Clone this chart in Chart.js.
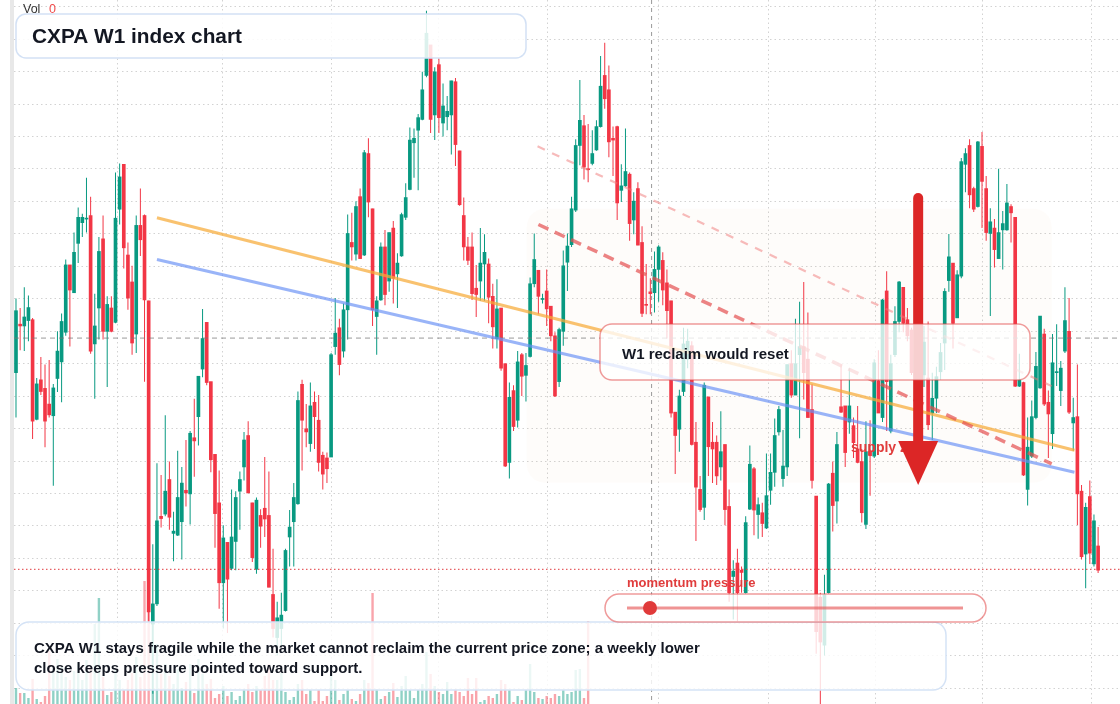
<!DOCTYPE html>
<html>
<head>
<meta charset="utf-8">
<title>CXPA W1 index chart</title>
<script src="https://cdn.jsdelivr.net/npm/chart.js@4.4.1/dist/chart.umd.min.js"></script>
<style>
  html, body { margin: 0; padding: 0; background: #fff; }
  #wrap { width: 1120px; height: 704px; }
</style>
</head>
<body>
<div id="wrap"><canvas id="chart" width="1120" height="704"></canvas></div>
<script>
// weekly candles, oldest first (index points)
const opens = [
  770, 878, 874, 886, 888, 666, 754, 735, 700, 674,
  757, 794, 860, 1010, 948, 1058, 1104, 1112, 1120, 834,
  914, 1068, 862, 914, 882, 1134, 1234, 1032, 972, 856,
  1098, 1120, 930, 210, 255, 450, 455, 532, 412, 408,
  438, 508, 500, 625, 672, 778, 882, 750, 588, 480,
  302, 392, 334, 394, 506, 560, 630, 480, 332, 452,
  468, 452, 276, 180, 200, 240, 404, 438, 478, 744,
  645, 612, 704, 664, 586, 580, 582, 828, 870, 818,
  910, 1060, 1034, 1162, 1032, 1258, 1135, 895, 932, 1050,
  974, 1092, 990, 1030, 1116, 1178, 1282, 1310, 1334, 1432,
  1500, 1344, 1456, 1326, 1340, 1344, 1418, 1264, 1120, 1050,
  1050, 958, 974, 1012, 1012, 940, 846, 914, 790, 570,
  730, 664, 810, 764, 806, 968, 998, 933, 952, 918,
  852, 750, 862, 1016, 1055, 1132, 1276, 1320, 1224, 1236,
  1266, 1318, 1432, 1400, 1292, 1318, 1176, 1186, 1212, 1110,
  1180, 1060, 922, 950, 948, 1000, 1020, 970, 930, 682,
  644, 728, 800, 830, 615, 510, 470, 716, 615, 615,
  560, 610, 472, 316, 346, 330, 280, 466, 556, 454,
  458, 424, 508, 548, 638, 534, 560, 790, 720, 810,
  828, 800, 688, 495, 270, 163, 280, 546, 484, 694,
  696, 660, 652, 600, 572, 432, 595, 584, 752, 670,
  952, 640, 810, 884, 960, 888, 865, 760, 810, 765,
  758, 680, 713, 772, 836, 975, 1014, 892, 985, 1234,
  1276, 1180, 1140, 1274, 1180, 1080, 1092, 1024, 1088, 1088,
  1140, 1116, 740, 748, 510, 584, 670, 736, 856, 704,
  634, 770, 730, 818, 862, 658, 672, 506, 366, 494,
  344, 384
];
const highs = [
  935, 914, 960, 942, 892, 758, 805, 788, 798, 745,
  862, 902, 1022, 1010, 1082, 1138, 1124, 1204, 1162, 946,
  1072, 1120, 940, 940, 1216, 1236, 1234, 1060, 1008, 1120,
  1180, 1122, 930, 388, 568, 542, 675, 572, 460, 596,
  560, 620, 640, 712, 762, 912, 882, 750, 588, 552,
  430, 392, 510, 506, 550, 638, 662, 480, 492, 466,
  582, 550, 378, 260, 280, 378, 464, 524, 728, 754,
  700, 748, 728, 720, 594, 592, 814, 936, 890, 924,
  1122, 1126, 1152, 1180, 1266, 1292, 1135, 940, 1060, 1088,
  1082, 1108, 1036, 1126, 1192, 1316, 1314, 1346, 1440, 1576,
  1500, 1450, 1470, 1414, 1386, 1420, 1426, 1264, 1160, 1072,
  1082, 1010, 1092, 1078, 1024, 968, 978, 914, 790, 748,
  742, 818, 814, 814, 982, 1080, 998, 946, 1000, 918,
  860, 870, 1042, 1080, 1162, 1290, 1422, 1344, 1324, 1310,
  1332, 1475, 1505, 1454, 1318, 1320, 1234, 1314, 1216, 1172,
  1194, 1096, 1012, 980, 1040, 1054, 1038, 1000, 930, 682,
  732, 870, 868, 840, 660, 540, 748, 716, 660, 630,
  684, 610, 510, 352, 378, 338, 450, 608, 560, 492,
  480, 590, 590, 668, 696, 642, 788, 820, 890, 928,
  972, 904, 744, 495, 280, 320, 524, 572, 638, 788,
  696, 780, 670, 696, 600, 662, 664, 800, 820, 934,
  996, 810, 918, 974, 960, 914, 870, 840, 830, 874,
  884, 770, 783, 836, 958, 1079, 1014, 998, 1248, 1270,
  1290, 1184, 1286, 1306, 1208, 1136, 1112, 1224, 1130, 1190,
  1145, 1116, 812, 750, 670, 708, 816, 896, 868, 730,
  856, 878, 796, 960, 936, 714, 788, 520, 480, 530,
  454, 426
];
const lows = [
  670, 820, 818, 840, 622, 664, 720, 604, 670, 518,
  727, 704, 852, 828, 948, 1014, 1072, 1082, 812, 712,
  844, 844, 738, 860, 880, 1100, 1002, 910, 810, 814,
  1030, 750, 215, 55, 250, 425, 450, 420, 350, 406,
  354, 472, 432, 538, 608, 760, 742, 548, 380, 244,
  200, 190, 330, 330, 420, 530, 502, 348, 322, 380,
  404, 292, 180, 140, 160, 238, 338, 338, 476, 552,
  604, 594, 600, 550, 510, 524, 582, 810, 764, 804,
  844, 1020, 1020, 1024, 1030, 1116, 874, 810, 930, 920,
  950, 924, 914, 1028, 1110, 1176, 1204, 1176, 1332, 1428,
  1304, 1288, 1304, 1296, 1310, 1256, 1230, 1142, 1020, 1010,
  932, 894, 930, 930, 880, 824, 824, 774, 560, 534,
  640, 648, 718, 706, 804, 960, 900, 924, 874, 840,
  716, 738, 830, 952, 1050, 1128, 1232, 1200, 1194, 1232,
  1264, 1316, 1358, 1250, 1208, 1110, 1150, 1184, 1064, 1078,
  1054, 894, 900, 900, 904, 928, 920, 846, 670, 544,
  594, 718, 780, 608, 395, 460, 442, 540, 524, 520,
  530, 430, 260, 220, 215, 280, 278, 464, 408, 400,
  404, 422, 476, 516, 630, 516, 540, 714, 720, 624,
  710, 670, 512, 144, 25, 140, 278, 416, 434, 680,
  560, 634, 580, 568, 436, 422, 496, 580, 680, 660,
  640, 635, 805, 860, 860, 840, 765, 740, 750, 738,
  642, 620, 680, 754, 776, 950, 824, 892, 980, 1172,
  1136, 1128, 1138, 1092, 1064, 896, 1004, 1024, 1000, 1086,
  1060, 738, 738, 540, 474, 580, 666, 734, 696, 580,
  600, 740, 696, 814, 678, 596, 430, 354, 290, 344,
  338, 324
];
const closes = [
  908, 874, 894, 915, 662, 745, 728, 662, 676, 736,
  818, 884, 1010, 954, 1038, 1116, 1116, 1114, 818, 874,
  1040, 862, 922, 862, 1114, 1206, 1048, 936, 836, 1098,
  1066, 932, 237, 255, 440, 445, 506, 448, 417, 492,
  524, 502, 635, 618, 762, 846, 748, 576, 456, 302,
  402, 310, 404, 492, 532, 620, 502, 358, 486, 428,
  444, 292, 200, 224, 230, 374, 426, 492, 708, 664,
  638, 696, 672, 570, 544, 556, 810, 858, 788, 910,
  1080, 1050, 1140, 1024, 1260, 1150, 910, 930, 1050, 944,
  1082, 980, 1014, 1122, 1160, 1288, 1292, 1338, 1400, 1526,
  1334, 1440, 1338, 1364, 1352, 1420, 1278, 1144, 1050, 1020,
  946, 944, 1014, 1038, 938, 872, 912, 780, 562, 715,
  650, 794, 762, 786, 968, 1022, 940, 935, 912, 852,
  718, 866, 1008, 1052, 1135, 1276, 1332, 1228, 1222, 1258,
  1318, 1408, 1380, 1284, 1288, 1148, 1186, 1218, 1102, 1152,
  1054, 902, 920, 946, 1000, 1050, 954, 908, 680, 630,
  718, 834, 840, 610, 515, 465, 742, 605, 600, 540,
  594, 465, 280, 328, 280, 325, 436, 566, 464, 476,
  434, 496, 548, 630, 688, 562, 788, 720, 790, 828,
  770, 670, 530, 193, 170, 275, 522, 474, 610, 682,
  592, 696, 614, 570, 458, 594, 585, 792, 680, 932,
  750, 790, 884, 972, 880, 852, 770, 810, 780, 838,
  654, 713, 761, 815, 951, 1028, 880, 988, 1240, 1258,
  1166, 1134, 1284, 1196, 1082, 1106, 1044, 1082, 1102, 1148,
  1126, 740, 754, 542, 604, 672, 784, 896, 700, 678,
  792, 772, 780, 886, 682, 670, 500, 360, 470, 368,
  440, 330
];
// volume is only reported for the first 139 weeks (legend reads "Vol 0" after that)
const volumes = [
  16, 11, 11, 6, 25, 5, 2, 8, 53, 37,
  45, 37, 27, 24, 33, 41, 24, 44, 37, 80,
  106, 27, 9, 12, 34, 24, 14, 24, 31, 47,
  27, 123, 110, 92, 60, 30, 40, 28, 20, 35,
  16, 22, 40, 11, 45, 30, 20, 25, 6, 10,
  18, 8, 12, 4, 8, 15, 20, 12, 18, 14,
  28, 40, 24, 24, 31, 12, 4, 7, 20, 24,
  10, 14, 3, 14, 3, 8, 30, 24, 4, 10,
  14, 5, 3, 10, 24, 21, 111, 15, 5, 8,
  12, 21, 7, 18, 28, 14, 6, 14, 20, 52,
  30, 18, 12, 10, 22, 10, 15, 12, 8, 26,
  10, 26, 2, 4, 8, 6, 10, 24, 20, 14,
  2, 8, 4, 14, 40, 12, 6, 5, 8, 6,
  10, 8, 14, 10, 12, 34, 35, 6, 83
];

// drawn studies, in (week index, price)
const trendOrange = [[34, 1115], [255.3, 597]];
const trendBlue = [[34, 1022], [255.3, 548]];
const channelUpper = [[125.8, 1274], [249.8, 740]];
const channelLower = [[126, 1100], [249.8, 567]];
const supplyZone = { from: 123.2, to: 249.8, top: 1135, bottom: 525 };
const supportLevel = 332;
const arrowWeek = 217.6, arrowTop = 1159, arrowTip = 520;
const crossWeek = 153.3, crossPrice = 847;
const gridWeeks = [24.4, 49.9, 76.2, 102.0, 128.3, 154.9, 181.4, 207.4, 233.2, 259.3];

const GREEN = '#089981';
const RED = '#f23645';
const FONT = '"Liberation Sans", Arial, sans-serif';
const weeks = opens.map((o, i) => i);
const isUp = weeks.map(i => closes[i] >= opens[i]);
const candleColors = weeks.map(i => isUp[i] ? GREEN : RED);

function strokeLine(ctx, x1, y1, x2, y2, color, width, dash) {
  ctx.save();
  ctx.strokeStyle = color;
  ctx.lineWidth = width;
  ctx.setLineDash(dash || []);
  ctx.beginPath();
  ctx.moveTo(x1, y1);
  ctx.lineTo(x2, y2);
  ctx.stroke();
  ctx.restore();
}

function box(ctx, x, y, w, h, r, fill, stroke, lw) {
  ctx.save();
  ctx.beginPath();
  ctx.roundRect(x, y, w, h, r);
  ctx.fillStyle = fill;
  ctx.fill();
  ctx.strokeStyle = stroke;
  ctx.lineWidth = lw;
  ctx.stroke();
  ctx.restore();
}

function text(ctx, str, x, y, font, color) {
  ctx.save();
  ctx.font = font;
  ctx.fillStyle = color;
  ctx.textBaseline = 'alphabetic';
  ctx.fillText(str, x, y);
  ctx.restore();
}

const overlay = {
  id: 'overlay',
  beforeDraw(chart) {
    const ctx = chart.ctx;
    ctx.save();
    ctx.fillStyle = '#ffffff';
    ctx.fillRect(0, 0, chart.width, chart.height);
    ctx.fillStyle = '#e8e8e8';
    ctx.fillRect(10, 0, 4, chart.height);
    ctx.restore();
  },
  beforeDatasetsDraw(chart) {
    const ctx = chart.ctx, x = chart.scales.x, y = chart.scales.y;
    const x0 = x.getPixelForValue(supplyZone.from), x1 = x.getPixelForValue(supplyZone.to);
    const y0 = y.getPixelForValue(supplyZone.top), y1 = y.getPixelForValue(supplyZone.bottom);
    ctx.save();
    ctx.beginPath();
    ctx.roundRect(x0, y0, x1 - x0, y1 - y0, 18);
    ctx.fillStyle = 'rgba(240,170,110,0.035)';
    ctx.fill();
    ctx.restore();
  },
  afterDatasetsDraw(chart) {
    const ctx = chart.ctx, x = chart.scales.x, y = chart.scales.y;
    const area = chart.chartArea;
    const P = (pt) => [x.getPixelForValue(pt[0]), y.getPixelForValue(pt[1])];

    // crosshair
    const cx = x.getPixelForValue(crossWeek), cy = y.getPixelForValue(crossPrice);
    strokeLine(ctx, cx, 0, cx, area.bottom, 'rgba(120,120,120,0.75)', 1, [4, 4]);
    strokeLine(ctx, area.left, cy, area.right, cy, 'rgba(120,120,120,0.75)', 1, [5, 4]);

    // support
    const sy = y.getPixelForValue(supportLevel);
    strokeLine(ctx, area.left, sy, area.right, sy, '#e0393e', 1, [1.5, 2.5]);

    // trend lines
    let a = P(trendOrange[0]), b = P(trendOrange[1]);
    strokeLine(ctx, a[0], a[1], b[0], b[1], 'rgba(246,170,55,0.72)', 3, null);
    a = P(trendBlue[0]); b = P(trendBlue[1]);
    strokeLine(ctx, a[0], a[1], b[0], b[1], 'rgba(105,145,245,0.68)', 3, null);
    a = P(channelUpper[0]); b = P(channelUpper[1]);
    strokeLine(ctx, a[0], a[1], b[0], b[1], 'rgba(240,120,120,0.5)', 2.2, [8, 8]);
    a = P(channelLower[0]); b = P(channelLower[1]);
    strokeLine(ctx, a[0], a[1], b[0], b[1], 'rgba(228,80,80,0.7)', 3.5, [11, 7]);

    // supply zone label + arrow
    text(ctx, 'supply zone', 851, 452, 'bold 14px ' + FONT, '#e03c3c');
    const ax = x.getPixelForValue(arrowWeek);
    const ay0 = y.getPixelForValue(arrowTop), ay1 = y.getPixelForValue(arrowTip);
    ctx.save();
    ctx.strokeStyle = '#dc2626';
    ctx.lineWidth = 10;
    ctx.lineCap = 'round';
    ctx.beginPath();
    ctx.moveTo(ax, ay0);
    ctx.lineTo(ax, ay1 - 42);
    ctx.stroke();
    ctx.fillStyle = '#dc2626';
    ctx.beginPath();
    ctx.moveTo(ax - 20, ay1 - 44);
    ctx.lineTo(ax + 20, ay1 - 44);
    ctx.lineTo(ax, ay1);
    ctx.closePath();
    ctx.fill();
    ctx.restore();

    // callout
    box(ctx, 600, 324, 430, 56, 12, 'rgba(255,255,255,0.78)', 'rgba(226,72,72,0.55)', 1.5);
    text(ctx, 'W1 reclaim would reset', 622, 359, 'bold 15px ' + FONT, '#131722');

    // title + legend
    box(ctx, 16, 14, 510, 44, 10, 'rgba(255,255,255,0.86)', '#d3e1f5', 1.5);
    text(ctx, 'CXPA W1 index chart', 32, 43, 'bold 20.8px ' + FONT, '#131722');
    text(ctx, 'Vol', 23, 13, '12.5px ' + FONT, '#333333');
    text(ctx, '0', 49, 13, '12.5px ' + FONT, '#f04b4b');

    // bottom note
    box(ctx, 16, 622, 930, 68, 13, 'rgba(255,255,255,0.82)', '#d5e3f6', 1.5);
    text(ctx, 'CXPA W1 stays fragile while the market cannot reclaim the current price zone; a weekly lower', 34, 653, 'bold 15px ' + FONT, '#131722');
    text(ctx, 'close keeps pressure pointed toward support.', 34, 673, 'bold 15px ' + FONT, '#131722');

    // momentum gauge
    text(ctx, 'momentum pressure', 627, 587, 'bold 13px ' + FONT, '#e03c3c');
    box(ctx, 605, 594, 381, 28, 14, 'rgba(255,255,255,0.78)', 'rgba(226,72,72,0.55)', 1.5);
    strokeLine(ctx, 627, 608, 963, 608, 'rgba(230,90,90,0.65)', 3, null);
    ctx.save();
    ctx.fillStyle = '#e03a3a';
    ctx.beginPath();
    ctx.arc(650, 608, 7, 0, Math.PI * 2);
    ctx.fill();
    ctx.restore();
  }
};

const gridColor = '#d2d2d2';

new Chart(document.getElementById('chart'), {
  type: 'bar',
  data: {
    datasets: [
      {
        label: 'body',
        data: weeks.map(i => ({ x: i, y: [opens[i], closes[i]] })),
        backgroundColor: candleColors,
        barThickness: 3,
        minBarLength: 1,
        grouped: false,
        order: 0,
        yAxisID: 'y'
      },
      {
        label: 'wick',
        data: weeks.map(i => ({ x: i, y: [lows[i], highs[i]] })),
        backgroundColor: candleColors,
        barThickness: 1,
        inflateAmount: 0,
        grouped: false,
        order: 1,
        yAxisID: 'y'
      },
      {
        label: 'volume',
        data: volumes.map((v, i) => ({ x: i, y: v })),
        backgroundColor: volumes.map((v, i) => isUp[i] ? 'rgba(8,153,129,0.45)' : 'rgba(242,54,69,0.45)'),
        barThickness: 2.4,
        inflateAmount: 0,
        grouped: false,
        order: 2,
        yAxisID: 'yv'
      }
    ]
  },
  options: {
    responsive: false,
    animation: false,
    devicePixelRatio: 1,
    layout: { padding: 0 },
    plugins: { legend: { display: false }, tooltip: { enabled: false } },
    scales: {
      x: {
        type: 'linear',
        min: -0.48,
        max: 266.28,
        offset: false,
        ticks: { display: false },
        grid: { color: gridColor, drawTicks: false, offset: false },
        border: { display: false, dash: [1.5, 3] },
        afterBuildTicks: s => { s.ticks = gridWeeks.map(v => ({ value: v })); },
        afterFit: s => { s.height = 0; }
      },
      y: {
        type: 'linear',
        position: 'left',
        min: 32,
        max: 1600,
        ticks: { display: false },
        grid: { color: gridColor, drawTicks: false },
        border: { display: false, dash: [1.5, 3] },
        afterBuildTicks: s => {
          const t = [];
          for (let v = 1585; v > 40; v -= 72.27) t.push({ value: v });
          s.ticks = t;
        },
        afterFit: s => { s.width = 14; }
      },
      yv: { type: 'linear', display: false, min: 0, max: 704 }
    }
  },
  plugins: [overlay]
});
</script>
</body>
</html>
